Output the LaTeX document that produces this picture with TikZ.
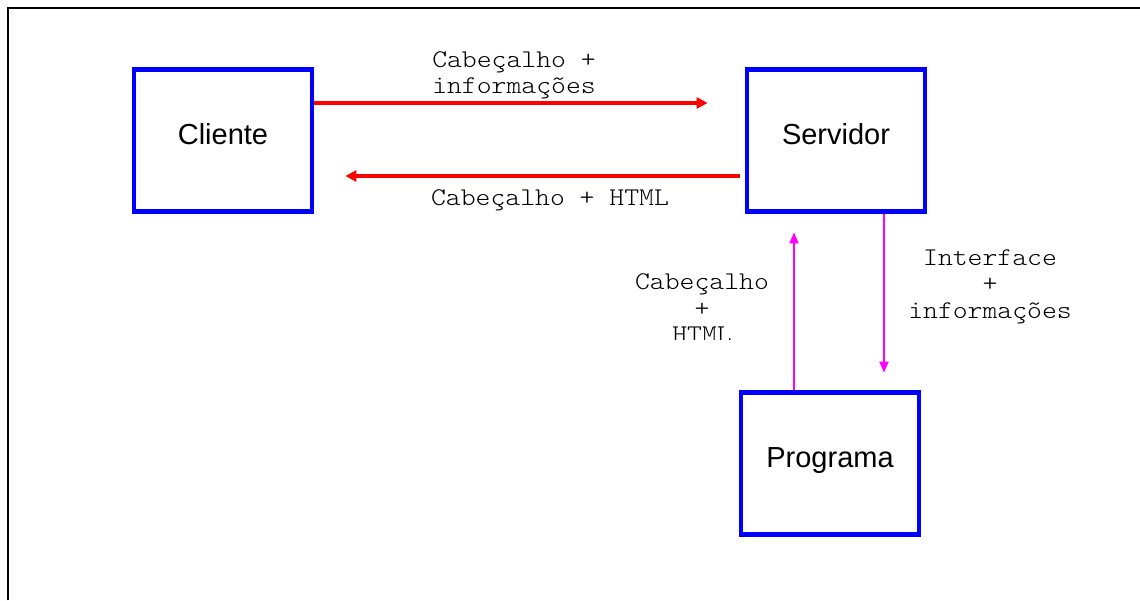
\documentclass[tikz,border=0pt]{standalone}
\usepackage{fontspec}
\setmainfont{Liberation Sans}
\newfontfamily\monofam[FakeStretch=1.11]{lmmonolt10-regular.otf}
\usetikzlibrary{arrows.meta}
\definecolor{pureblue}{RGB}{0,0,255}
\definecolor{purered}{RGB}{255,0,0}
\definecolor{puremagenta}{RGB}{255,0,255}
\begin{document}
\begin{tikzpicture}[x=1pt,y=-1pt,
  box/.style={draw=pureblue,line width=4.8pt,minimum width=178pt,minimum height=142pt,
    inner sep=0pt,text height=21pt,text depth=14pt,font=\fontsize{29}{34}\selectfont},
  bigarrow/.style={draw=purered,line width=4pt,-{Triangle[length=11pt,width=11pt]}},
  thinarrow/.style={draw=puremagenta,line width=2pt,-{Triangle[length=11pt,width=9pt]}},
  msg/.style={font=\monofam\fontsize{25.5}{26.5}\selectfont,align=center,inner sep=0pt,text=black}]
\useasboundingbox (0,0) rectangle (1140,600);
\fill[white] (0,0) rectangle (1140,600);
% page frame (left and top edges)
\draw[line width=2.5pt] (8,600) -- (8,8) -- (1140,8);

% boxes
\node[box] (cli) at (223,140.5) {Cliente};
\node[box] (srv) at (836,140.5) {Servidor};
\node[box] (prg) at (830,463.5) {Programa};

% client <-> server
\coordinate (reqend) at ([xshift=-37pt,yshift=37.5pt]srv.west);
\coordinate (respend) at ([xshift=31pt,yshift=-35.5pt]cli.east);
\draw[bigarrow] ([yshift=37.5pt]cli.east) -- (reqend);
\draw[bigarrow] ([xshift=-5pt,yshift=-35.5pt]srv.west) -- (respend);

% server <-> program
\coordinate (upend) at ([xshift=-42pt,yshift=-18.5pt]srv.south);
\coordinate (downend) at ([xshift=54pt,yshift=17.5pt]prg.north);
\draw[thinarrow] ([xshift=-36pt]prg.north) -- (upend);
\draw[thinarrow] ([xshift=48pt]srv.south) -- (downend);

% labels
\node[msg] (lreq) at (514,75.5) {Cabeçalho +\\informações};
\node[msg] (lresp) at (550,200.5) {Cabeçalho + HTML};
\begin{scope}
  \clip (600,250) rectangle (790,339);
  \node[msg] (lup) at (702,308.5) {Cabeçalho\\+\\HTML};
\end{scope}
\node[msg] (ldown) at (990,286.5) {Interface\\+\\informações};
\end{tikzpicture}
\end{document}
